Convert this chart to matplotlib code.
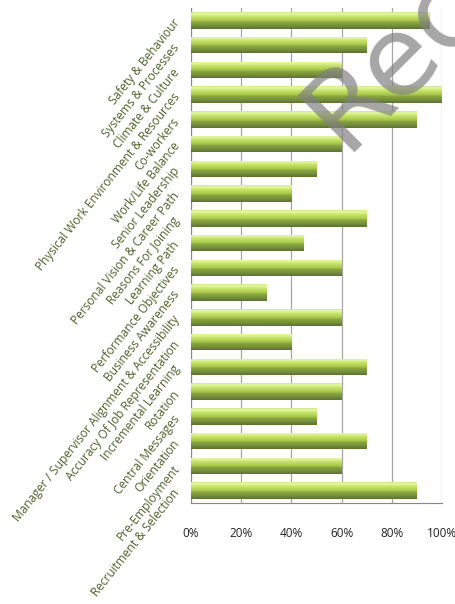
import numpy as np
import matplotlib
matplotlib.use('Agg')
import matplotlib.pyplot as plt
from matplotlib.colors import LinearSegmentedColormap
from matplotlib.ticker import PercentFormatter

# --- dados (de cima para baixo) ---
categories = [
    'Safety & Behaviour', 'Systems & Processes', 'Climate & Culture',
    'Physical Work Environment & Resources', 'Co-workers', 'Work/Life Balance',
    'Senior Leadership', 'Personal Vision & Career Path', 'Reasons For Joining',
    'Learning Path', 'Performance Objectives', 'Business Awareness',
    'Manager / Supervisor Alignment & Accessibility', 'Accuracy Of Job Representation',
    'Incremental Learning', 'Rotation', 'Central Messages', 'Orientation',
    'Pre-Employment', 'Recruitment & Selection',
]
values = [95, 70, 60, 100, 90, 60, 50, 40, 70, 45, 60, 30, 60, 40, 70, 60, 50, 70, 60, 90]
xticks = [0, 20, 40, 60, 80, 100]

LABEL_COLOR = '#4f6228'
FONT = 'Open Sans'

fig = plt.figure(figsize=(4.56, 6.04), dpi=100)
ax = fig.add_axes([191/456, 101/604, 251/456, 495/604])

y = np.arange(len(categories))
bars = ax.barh(y, values, height=0.67, color='#a9cc4c', edgecolor='none', zorder=3)

# gradiente "3D" estilo Excel
grad_cmap = LinearSegmentedColormap.from_list('barra', [
    (0.00, '#cfe98a'), (0.10, '#e6f8a8'), (0.25, '#c8e56c'),
    (0.50, '#a8ca4a'), (0.62, '#86a23e'), (0.80, '#76903c'), (1.00, '#5c7330')])
grad = np.linspace(0, 1, 64).reshape(-1, 1)
for b in bars:
    x0, y0 = b.get_x(), b.get_y()
    w, h = b.get_width(), b.get_height()
    im = ax.imshow(grad, cmap=grad_cmap, aspect='auto', zorder=4,
                   extent=[x0, x0 + w, y0 + h, y0], interpolation='bilinear')
    im.set_clip_path(b)

ax.set_xlim(0, 100)
ax.set_ylim(len(categories) - 0.5, -0.5)
ax.set_xticks(xticks)
ax.xaxis.set_major_formatter(PercentFormatter(decimals=0))
ax.tick_params(axis='x', length=0, pad=17, labelsize=8.5, labelcolor='#222222')
for t in ax.get_xticklabels():
    t.set_fontfamily(FONT)
ax.set_yticks([])
ax.grid(axis='x', color='#a6a6a6', linewidth=0.9, zorder=0)

for s in ['top', 'right']:
    ax.spines[s].set_visible(False)
ax.spines['left'].set_color('#888888')
ax.spines['bottom'].set_color('#888888')

# rotulos inclinados
for yi, name in zip(y, categories):
    ax.annotate(name, xy=(0, yi), xycoords=('axes fraction', 'data'),
                xytext=(-10, 0), textcoords='offset points',
                rotation=51.5, rotation_mode='anchor', ha='right', va='center',
                fontsize=8.6, color=LABEL_COLOR, family=FONT, annotation_clip=False)

# marca d'agua
fig.text(344/456, 1 - 153/604, 'Rec', fontsize=80, color='#808080', alpha=0.7,
         rotation=45, rotation_mode='anchor', ha='left', va='baseline',
         family='DejaVu Sans', zorder=10)

fig.savefig('out.png', dpi=100)
